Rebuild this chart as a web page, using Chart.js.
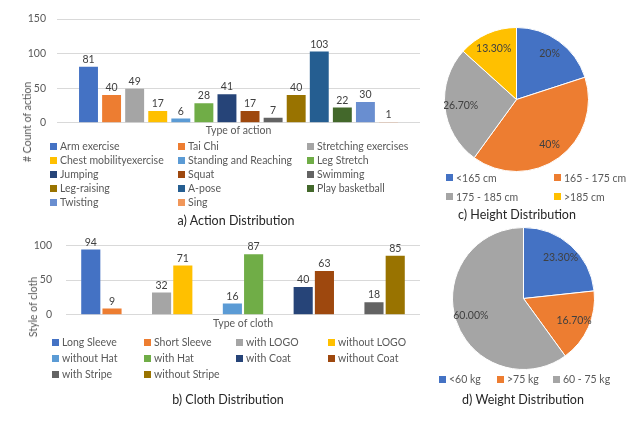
<!DOCTYPE html>
<html>
<head>
<meta charset="utf-8">
<script src="https://cdn.jsdelivr.net/npm/chart.js@4.4.1/dist/chart.umd.min.js"></script>
<style>
  body { margin: 0; background: #fff; width: 636px; height: 428px; position: relative; overflow: hidden; font-family: Lato, sans-serif; }
  canvas, .box { position: absolute; }
  .legend { position: absolute; display: grid; color: #595959; font-size: 10.5px; }
  .legend div { display: flex; align-items: center; white-space: nowrap; }
  .legend span { display: inline-block; width: 7px; height: 7px; margin-right: 3px; }
  .cap { position: absolute; color: #262626; font-size: 12.5px; transform: translateX(-50%); white-space: nowrap; }
  .ytitle { position: absolute; color: #595959; font-size: 10.5px; transform: translate(-50%, -50%) rotate(-90deg); white-space: nowrap; }
</style>
</head>
<body>
<canvas id="action-chart" style="left:0;top:0" width="420" height="140"></canvas>
<div class="ytitle" style="left:27px;top:122px"># Count of action</div>
<div id="action-legend" class="legend" style="left:50px;top:139px;grid-template-columns:128px 129px 120px;grid-auto-rows:14px"></div>
<div class="cap" style="left:236px;top:213px">a) Action Distribution</div>

<canvas id="cloth-chart" style="left:0;top:225px" width="420" height="110"></canvas>
<div class="ytitle" style="left:33px;top:307px">Style of cloth</div>
<div id="cloth-legend" class="legend" style="left:52px;top:334px;grid-template-columns:92px 92px 92px 92px;grid-auto-rows:16px"></div>
<div class="cap" style="left:228px;top:392px">b) Cloth Distribution</div>

<canvas id="height-chart" style="left:444px;top:27px" width="145" height="145"></canvas>
<div id="height-legend" class="legend" style="left:446px;top:168px;grid-template-columns:108px 90px;grid-auto-rows:19px"></div>
<div class="cap" style="left:517px;top:207px">c) Height Distribution</div>

<canvas id="weight-chart" style="left:452px;top:227px" width="143" height="143"></canvas>
<div id="weight-legend" class="legend" style="left:439px;top:372px;grid-template-columns:58px 56px 70px;grid-auto-rows:14px"></div>
<div class="cap" style="left:523px;top:392px">d) Weight Distribution</div>

<script>
// data
const actionNames = ["Arm exercise", "Tai Chi", "Stretching exercises", "Chest mobilityexercise",
    "Standing and Reaching", "Leg Stretch", "Jumping", "Squat", "Swimming", "Leg-raising",
    "A-pose", "Play basketball", "Twisting", "Sing"];
const actionCounts = [81, 40, 49, 17, 6, 28, 41, 17, 7, 40, 103, 22, 30, 1];
const actionColors = ["#4472C4", "#ED7D31", "#A5A5A5", "#FFC000", "#5B9BD5", "#70AD47", "#264478",
    "#9E480E", "#636363", "#997300", "#255E91", "#43682B", "#698ED0", "#F1975A"];

const clothNames = ["Long Sleeve", "Short Sleeve", "with LOGO", "without LOGO", "without Hat",
    "with Hat", "with Coat", "without Coat", "with Stripe", "without Stripe"];
const clothCounts = [94, 9, 32, 71, 16, 87, 40, 63, 18, 85];
const clothGroup = [0, 0, 1, 1, 2, 2, 3, 3, 4, 4];
const clothColors = actionColors.slice(0, 10);

const heightNames = ["<165 cm", "165 - 175 cm", "175 - 185 cm", ">185 cm"];
const heightPct = [20, 40, 26.7, 13.3];
const heightText = ["20%", "40%", "26.70%", "13.30%"];

const weightNames = ["<60 kg", ">75 kg", "60 - 75 kg"];
const weightPct = [23.3, 16.7, 60];
const weightText = ["23.30%", "16.70%", "60.00%"];

const pieColors = ["#4472C4", "#ED7D31", "#A5A5A5", "#FFC000"];

Chart.defaults.font.family = "Lato, sans-serif";
Chart.defaults.font.size = 10.5;
Chart.defaults.color = "#595959";
Chart.defaults.animation = false;

// value above each bar
const barValues = {
    id: 'barValues',
    afterDatasetsDraw(chart) {
        const ctx = chart.ctx;
        ctx.save();
        ctx.font = "10.5px Lato, sans-serif";
        ctx.fillStyle = "#404040";
        ctx.textAlign = "center";
        ctx.textBaseline = "bottom";
        chart.data.datasets.forEach((ds, i) => {
            chart.getDatasetMeta(i).data.forEach((bar, j) => {
                if (ds.data[j] == null) return;
                ctx.fillText(ds.data[j], bar.x, bar.y - 2);
            });
        });
        ctx.restore();
    }
};

// percent text inside slices
const sliceText = {
    id: 'sliceText',
    afterDatasetsDraw(chart, args, opts) {
        const ctx = chart.ctx;
        ctx.save();
        ctx.font = "10.5px Lato, sans-serif";
        ctx.fillStyle = "#404040";
        ctx.textAlign = "center";
        ctx.textBaseline = "middle";
        chart.getDatasetMeta(0).data.forEach((arc, i) => {
            const mid = (arc.startAngle + arc.endAngle) / 2;
            const r = arc.outerRadius * 0.78;
            ctx.fillText(opts.text[i], arc.x + Math.cos(mid) * r, arc.y + Math.sin(mid) * r);
        });
        ctx.restore();
    }
};

function htmlLegend(chart, id) {
    const box = document.getElementById(id);
    const items = chart.options.plugins.legend.labels.generateLabels(chart);
    items.forEach(item => {
        const row = document.createElement('div');
        const sw = document.createElement('span');
        sw.style.background = item.fillStyle;
        row.appendChild(sw);
        row.appendChild(document.createTextNode(item.text));
        box.appendChild(row);
    });
}

function barOptions(leftWidth, yMax, xTitle, bottomH, catPct, barPct) {
    return {
        responsive: false,
        layout: { padding: { top: 17, left: 0, right: 0, bottom: 0 } },
        datasets: { bar: { categoryPercentage: catPct, barPercentage: barPct } },
        plugins: { legend: { display: false }, tooltip: { enabled: false } },
        scales: {
            x: {
                ticks: { display: false },
                grid: { display: false },
                border: { display: false },
                title: { display: true, text: xTitle, padding: { top: 0, bottom: 1 }, font: { size: 10.5 } },
                afterFit: s => { s.height = bottomH; }
            },
            y: {
                min: 0, max: yMax,
                ticks: { stepSize: 50, padding: leftWidth.pad },
                grid: { color: "#D9D9D9", drawTicks: false },
                border: { display: false },
                afterFit: s => { s.width = leftWidth.w; }
            }
        }
    };
}

// a) action
const actionOpts = barOptions({ w: 57, pad: 11 }, 150, "Type of action", 15, 0.89, 0.82);
actionOpts.layout.padding.top = 19;
var CHART1 = new Chart(document.getElementById("action-chart"), {
    type: 'bar',
    data: {
        labels: [""],
        datasets: actionNames.map((n, i) => ({
            label: n, data: [actionCounts[i]], backgroundColor: actionColors[i]
        }))
    },
    options: actionOpts,
    plugins: [barValues]
});
htmlLegend(CHART1, "action-legend");

// b) cloth
var CHART2 = new Chart(document.getElementById("cloth-chart"), {
    type: 'bar',
    data: {
        labels: ["", "", "", "", ""],
        datasets: clothNames.map((n, i) => ({
            label: n,
            data: [0, 1, 2, 3, 4].map(g => g === clothGroup[i] ? clothCounts[i] : null),
            backgroundColor: clothColors[i],
            skipNull: true
        }))
    },
    options: barOptions({ w: 66, pad: 14 }, 100, "Type of cloth", 16, 0.6, 0.9),
    plugins: [barValues]
});
htmlLegend(CHART2, "cloth-legend");

function pieChart(id, names, values, text) {
    return new Chart(document.getElementById(id), {
        type: 'pie',
        data: {
            labels: names,
            datasets: [{ data: values, backgroundColor: pieColors.slice(0, values.length), borderColor: "#fff", borderWidth: 1 }]
        },
        options: {
            responsive: false,
            plugins: { legend: { display: false }, tooltip: { enabled: false }, sliceText: { text: text } }
        },
        plugins: [sliceText]
    });
}

// c) height, d) weight
var CHART3 = pieChart("height-chart", heightNames, heightPct, heightText);
htmlLegend(CHART3, "height-legend");
var CHART4 = pieChart("weight-chart", weightNames, weightPct, weightText);
htmlLegend(CHART4, "weight-legend");
</script>
</body>
</html>
